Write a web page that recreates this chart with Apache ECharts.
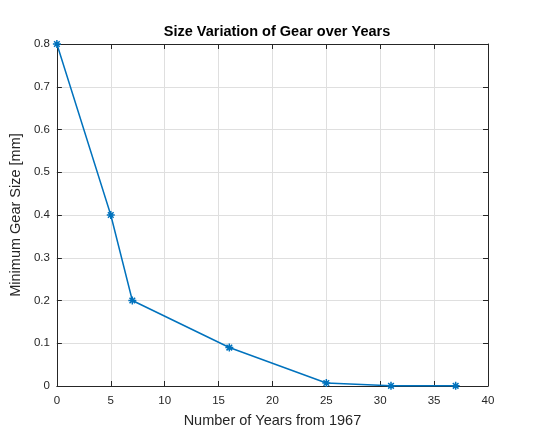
<!DOCTYPE html>
<html><head><meta charset="utf-8">
<script src="https://cdn.jsdelivr.net/npm/echarts@6/dist/echarts.min.js"></script>
<style>html,body{margin:0;padding:0;background:#fff}#c{width:538px;height:446px}</style>
</head><body><div id="c"></div>
<script>
const years = [0, 5, 7, 16, 25, 31, 37];
const sizes = [0.8, 0.4, 0.2, 0.09, 0.007, 0.0005, 0.0005];
const xTicks = [0, 5, 10, 15, 20, 25, 30, 35, 40];
const yTicks = [0, 0.1, 0.2, 0.3, 0.4, 0.5, 0.6, 0.7, 0.8];

const font = 'Liberation Sans, Arial, Helvetica, sans-serif';
const axisCol = '#262626';
const chart = echarts.init(document.getElementById('c'), null, {renderer: 'canvas'});
const star = 'path://M0,-10L0,10M-10,0L10,0M-7.07,-7.07L7.07,7.07M-7.07,7.07L7.07,-7.07';
const baseX = {
  type: 'value', min: 0, max: 40, interval: 5,
  axisLine: {show: true, onZero: false, lineStyle: {color: axisCol, width: 1}},
  axisTick: {show: true, inside: true, length: 5, lineStyle: {color: axisCol}},
};
const baseY = {
  type: 'value', min: 0, max: 0.8, interval: 0.1,
  axisLine: {show: true, onZero: false, lineStyle: {color: axisCol, width: 1}},
  axisTick: {show: true, inside: true, length: 5, lineStyle: {color: axisCol}},
};
chart.setOption({
  animation: false,
  backgroundColor: '#fff',
  title: {
    text: 'Size Variation of Gear over Years', left: 272, top: 19, textAlign: 'center',
    textStyle: {fontFamily: font, fontSize: 14.5, fontWeight: 'bold', color: '#000'}
  },
  grid: {left: 55, right: 50, top: 44, bottom: 60, show: true, backgroundColor: '#fff', borderWidth: 0},
  xAxis: [
    Object.assign({}, baseX, {
      position: 'bottom',
      name: 'Number of Years from 1967', nameLocation: 'middle', nameGap: 27,
      nameTextStyle: {fontFamily: font, fontSize: 14.5, color: '#262626'},
      axisLabel: {fontFamily: font, fontSize: 11.5, color: '#262626', margin: 9},
      splitLine: {show: true, lineStyle: {color: '#dfdfdf', width: 1}}
    }),
    Object.assign({}, baseX, {position: 'top', axisLabel: {show: false}, splitLine: {show: false}})
  ],
  yAxis: [
    Object.assign({}, baseY, {
      position: 'left',
      name: 'Minimum Gear Size [mm]', nameLocation: 'middle', nameGap: 30,
      nameTextStyle: {fontFamily: font, fontSize: 14.5, color: '#262626'},
      axisLabel: {fontFamily: font, fontSize: 11.5, color: '#262626', margin: 7,
        formatter: v => (Math.round(v * 10) / 10).toString()},
      splitLine: {show: true, lineStyle: {color: '#dfdfdf', width: 1}}
    }),
    Object.assign({}, baseY, {position: 'right', axisLabel: {show: false}, splitLine: {show: false}})
  ],
  series: [{
    type: 'line',
    data: years.map((x, i) => [x, sizes[i]]),
    xAxisIndex: 0, yAxisIndex: 0,
    lineStyle: {color: '#0072BD', width: 1.5},
    symbol: star, symbolSize: 8, showAllSymbol: true,
    itemStyle: {color: 'none', borderColor: '#0072BD', borderWidth: 1.5},
    clip: false
  }]
});
</script></body></html>
